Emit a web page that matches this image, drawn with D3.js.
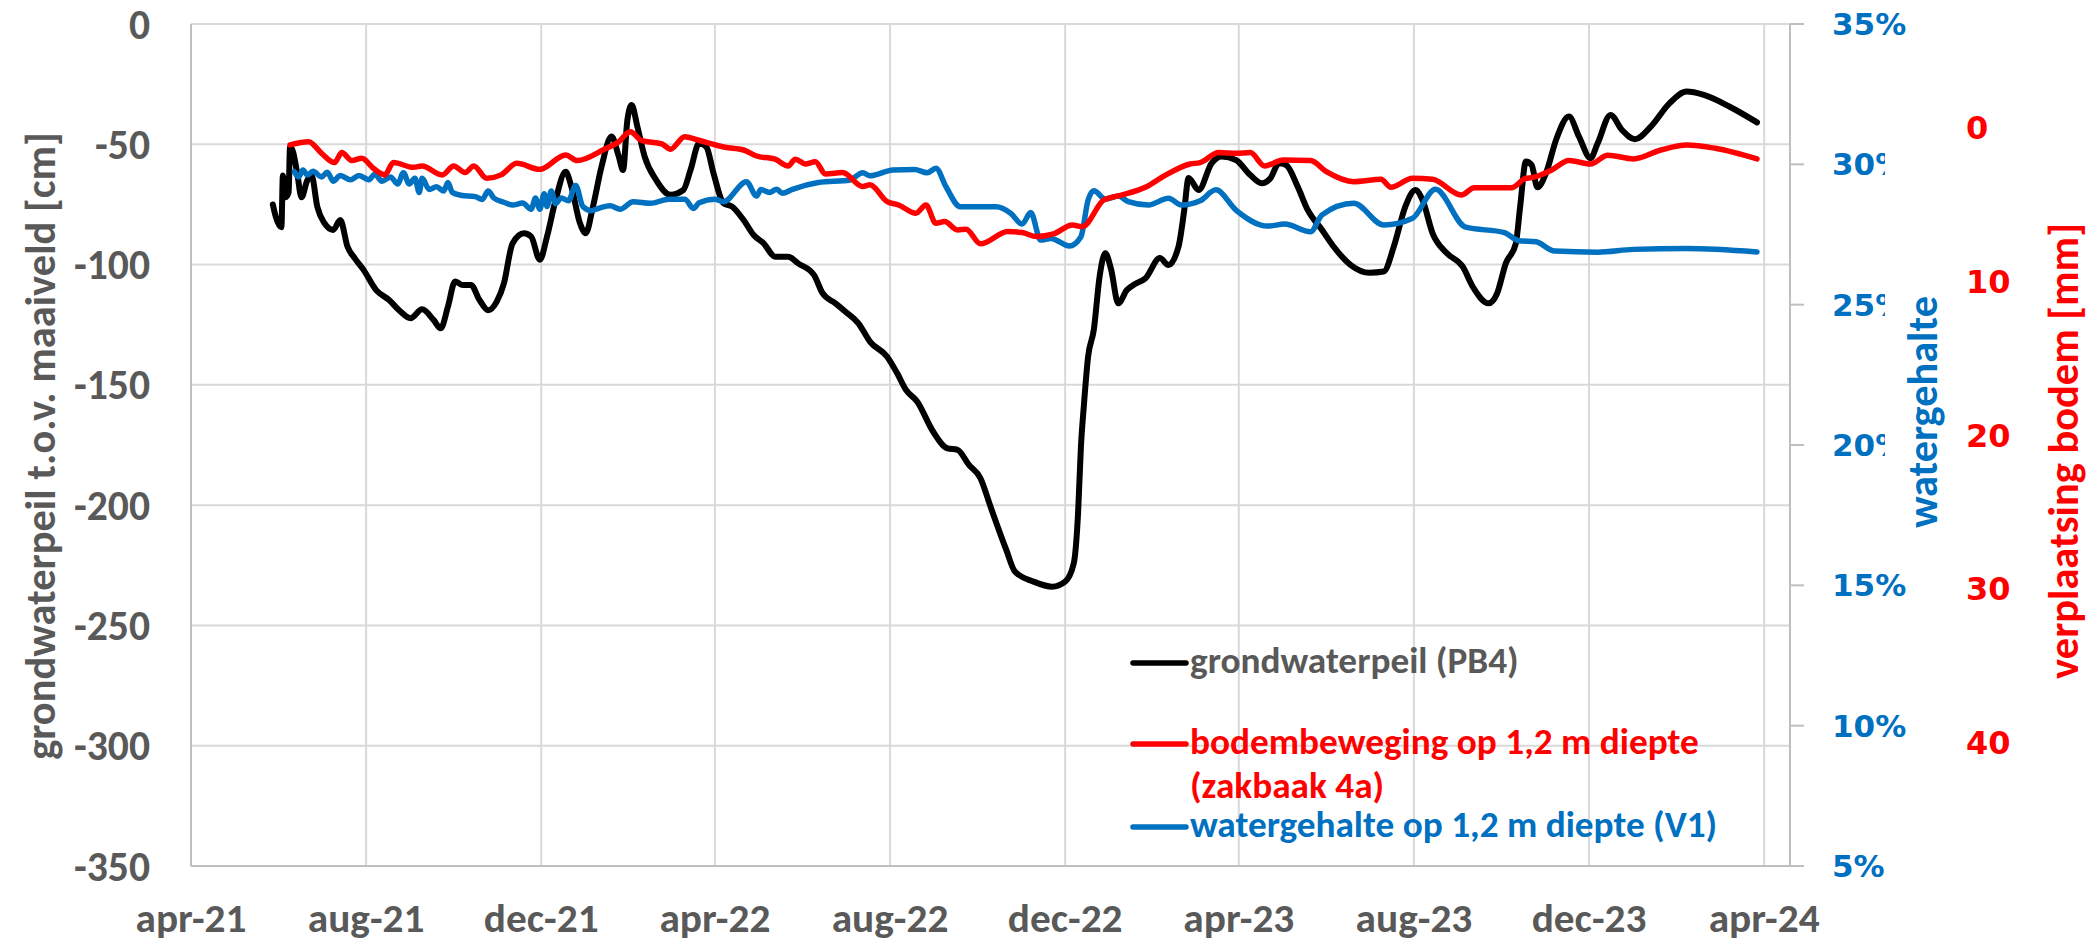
<!DOCTYPE html>
<html>
<head>
<meta charset="utf-8">
<script src="https://cdn.jsdelivr.net/npm/d3@7"></script>
<style>
  body { margin: 0; background: #fff; }
  text { font-weight: bold; }
</style>
</head>
<body>
<div id="chart"></div>
<script>
const parseDate = d3.utcParse("%Y-%m-%d");

// axis ticks
const xTickDates = ["2021-04-01", "2021-08-01", "2021-12-01", "2022-04-01", "2022-08-01",
  "2022-12-01", "2023-04-01", "2023-08-01", "2023-12-01", "2024-04-01"];
const xTickLabels = ["apr-21", "aug-21", "dec-21", "apr-22", "aug-22",
  "dec-22", "apr-23", "aug-23", "dec-23", "apr-24"];
const leftTicks = [0, -50, -100, -150, -200, -250, -300, -350];
const blueTicks = [0.35, 0.30, 0.25, 0.20, 0.15, 0.10, 0.05];
const redTicks = [0, 10, 20, 30, 40];

// grondwaterpeil PB4 [cm t.o.v. maaiveld]
const grondwaterpeil = [
  ["2021-05-28", -75], ["2021-05-30", -80], ["2021-06-03", -84.5], ["2021-06-04", -63],
  ["2021-06-06", -72], ["2021-06-08", -70], ["2021-06-09", -51], ["2021-06-11", -53],
  ["2021-06-14", -62], ["2021-06-17", -72], ["2021-06-21", -65], ["2021-06-24", -63],
  ["2021-06-28", -76], ["2021-07-03", -82.8], ["2021-07-09", -85.6], ["2021-07-14", -81.5],
  ["2021-07-19", -92.5], ["2021-07-24", -97.3], ["2021-07-30", -102], ["2021-08-08", -110.6],
  ["2021-08-17", -114.7], ["2021-08-24", -119], ["2021-09-01", -122.3], ["2021-09-09", -118.6],
  ["2021-09-17", -123], ["2021-09-22", -126.5], ["2021-09-27", -117.5], ["2021-10-02", -107],
  ["2021-10-07", -108.5], ["2021-10-13", -108.5], ["2021-10-19", -114.7], ["2021-10-25", -119],
  ["2021-10-31", -115.4], ["2021-11-05", -107.8], ["2021-11-11", -91.2], ["2021-11-19", -87],
  ["2021-11-24", -88.4], ["2021-11-30", -98], ["2021-12-05", -88.4], ["2021-12-11", -73.2],
  ["2021-12-18", -61.4], ["2021-12-22", -67.6], ["2021-12-28", -82.8], ["2022-01-01", -87],
  ["2022-01-06", -76], ["2022-01-12", -59.3], ["2022-01-19", -46.8], ["2022-01-24", -55],
  ["2022-01-27", -60.7], ["2022-01-30", -40], ["2022-02-02", -33.7], ["2022-02-06", -42.7],
  ["2022-02-11", -55], ["2022-02-19", -64.8], ["2022-03-01", -71], ["2022-03-10", -69],
  ["2022-03-15", -60.7], ["2022-03-21", -49.6], ["2022-03-26", -51], ["2022-03-31", -62],
  ["2022-04-07", -74.5], ["2022-04-13", -75.9], ["2022-04-21", -81.5], ["2022-04-28", -87.7],
  ["2022-05-05", -91.2], ["2022-05-13", -96.7], ["2022-05-22", -96.7], ["2022-05-29", -99.5],
  ["2022-06-09", -104.3], ["2022-06-15", -111.9], ["2022-06-24", -116.1], ["2022-07-01", -119.6],
  ["2022-07-10", -124.4], ["2022-07-18", -132], ["2022-07-30", -138.3], ["2022-08-06", -145.2],
  ["2022-08-12", -152], ["2022-08-20", -157], ["2022-08-31", -169.4], ["2022-09-10", -176.4],
  ["2022-09-17", -177], ["2022-09-25", -183.3], ["2022-10-03", -188.8], ["2022-10-10", -200.6],
  ["2022-10-21", -218.6], ["2022-10-27", -227.6], ["2022-11-09", -231.8], ["2022-11-22", -233.9],
  ["2022-12-01", -231.8], ["2022-12-07", -224.2], ["2022-12-10", -203.4], ["2022-12-12", -175.7],
  ["2022-12-14", -159], ["2022-12-17", -138.3], ["2022-12-21", -127], ["2022-12-25", -105],
  ["2022-12-29", -95.3], ["2023-01-02", -102], ["2023-01-07", -116.1], ["2023-01-13", -110.6],
  ["2023-01-19", -108], ["2023-01-26", -105.7], ["2023-02-05", -97.3], ["2023-02-11", -100.2],
  ["2023-02-18", -92.5], ["2023-02-22", -77.3], ["2023-02-25", -64], ["2023-03-04", -69],
  ["2023-03-13", -57.9], ["2023-03-20", -55.1], ["2023-03-30", -56.5], ["2023-04-09", -62.8],
  ["2023-04-17", -66.2], ["2023-04-23", -64.1], ["2023-04-29", -57.9], ["2023-05-04", -58.6],
  ["2023-05-12", -67.6], ["2023-05-19", -77.3], ["2023-05-29", -85.6], ["2023-06-06", -92.5],
  ["2023-06-18", -100.2], ["2023-07-01", -103.4], ["2023-07-11", -102.9], ["2023-07-18", -92.5],
  ["2023-07-26", -75.9], ["2023-08-02", -69], ["2023-08-07", -73.2], ["2023-08-14", -87],
  ["2023-08-24", -95.3], ["2023-09-04", -100.9], ["2023-09-11", -109.2], ["2023-09-22", -116.1],
  ["2023-09-28", -111.9], ["2023-10-04", -99.5], ["2023-10-11", -91.2], ["2023-10-14", -75.9],
  ["2023-10-18", -57.2], ["2023-10-22", -58.6], ["2023-10-26", -67.9], ["2023-11-01", -62],
  ["2023-11-08", -48.2], ["2023-11-17", -38.5], ["2023-11-24", -46.8], ["2023-12-02", -55.8],
  ["2023-12-07", -49.6], ["2023-12-16", -37.8], ["2023-12-24", -44.1], ["2024-01-02", -47.9],
  ["2024-01-13", -42.7], ["2024-01-26", -33], ["2024-02-07", -28.1], ["2024-02-19", -29.5],
  ["2024-03-08", -34.4], ["2024-03-27", -40.9]
];

// bodembeweging op 1,2 m diepte (zakbaak 4a) [mm]
const bodembeweging = [
  ["2021-06-09", 1.07], ["2021-06-22", 0.86], ["2021-07-01", 1.62], ["2021-07-10", 2.22],
  ["2021-07-15", 1.57], ["2021-07-22", 2.09], ["2021-07-29", 1.94], ["2021-08-06", 2.59],
  ["2021-08-14", 3.02], ["2021-08-20", 2.22], ["2021-09-03", 2.53], ["2021-09-09", 2.44],
  ["2021-09-23", 3.02], ["2021-10-01", 2.44], ["2021-10-09", 2.87], ["2021-10-15", 2.44],
  ["2021-10-24", 3.24], ["2021-11-03", 3.02], ["2021-11-14", 2.27], ["2021-11-30", 2.66],
  ["2021-12-18", 1.72], ["2021-12-26", 2.09], ["2022-01-14", 1.35], ["2022-01-24", 0.86],
  ["2022-02-01", 0.21], ["2022-02-09", 0.79], ["2022-02-23", 1.0], ["2022-03-01", 1.35],
  ["2022-03-11", 0.53], ["2022-03-20", 0.75], ["2022-04-08", 1.22], ["2022-04-21", 1.40],
  ["2022-04-30", 1.79], ["2022-05-13", 2.0], ["2022-05-22", 2.44], ["2022-05-27", 2.0],
  ["2022-06-03", 2.31], ["2022-06-10", 2.16], ["2022-06-17", 2.96], ["2022-06-29", 2.87],
  ["2022-07-13", 3.78], ["2022-07-18", 3.67], ["2022-07-30", 4.76], ["2022-08-07", 4.98],
  ["2022-08-19", 5.52], ["2022-08-26", 4.98], ["2022-09-02", 6.17], ["2022-09-08", 6.06],
  ["2022-09-17", 6.6], ["2022-09-23", 6.56], ["2022-10-03", 7.51], ["2022-10-22", 6.71],
  ["2022-11-01", 6.77], ["2022-11-11", 7.03], ["2022-11-23", 6.86], ["2022-12-06", 6.28],
  ["2022-12-13", 6.39], ["2022-12-28", 4.65], ["2023-01-07", 4.39], ["2023-01-27", 3.78],
  ["2023-02-08", 3.09], ["2023-02-26", 2.31], ["2023-03-05", 2.22], ["2023-03-18", 1.57],
  ["2023-03-30", 1.61], ["2023-04-09", 1.57], ["2023-04-19", 2.44], ["2023-05-02", 2.05],
  ["2023-05-21", 2.09], ["2023-06-01", 2.81], ["2023-06-20", 3.46], ["2023-07-09", 3.31],
  ["2023-07-16", 3.83], ["2023-07-31", 3.24], ["2023-08-14", 3.31], ["2023-09-03", 4.33],
  ["2023-09-12", 3.85], ["2023-10-08", 3.85], ["2023-10-18", 3.24], ["2023-10-22", 3.2],
  ["2023-11-05", 2.7], ["2023-11-17", 2.09], ["2023-12-02", 2.31], ["2023-12-14", 1.74],
  ["2024-01-01", 1.98], ["2024-01-20", 1.4], ["2024-02-07", 1.07], ["2024-02-27", 1.29],
  ["2024-03-27", 1.98]
];

// watergehalte op 1,2 m diepte (V1) [fraction]
const watergehalte = [
  ["2021-06-12", 0.2974], ["2021-06-15", 0.2955], ["2021-06-18", 0.2980], ["2021-06-21", 0.2962],
  ["2021-06-25", 0.2975], ["2021-07-01", 0.2955], ["2021-07-05", 0.2972], ["2021-07-09", 0.2940],
  ["2021-07-14", 0.2960], ["2021-07-21", 0.2945], ["2021-07-27", 0.2960], ["2021-08-03", 0.2945],
  ["2021-08-07", 0.2965], ["2021-08-12", 0.2940], ["2021-08-18", 0.2955], ["2021-08-23", 0.2930],
  ["2021-08-27", 0.2970], ["2021-08-31", 0.2930], ["2021-09-04", 0.2950], ["2021-09-07", 0.2900],
  ["2021-09-09", 0.2950], ["2021-09-14", 0.2910], ["2021-09-19", 0.2920], ["2021-09-24", 0.2905],
  ["2021-09-27", 0.2935], ["2021-09-30", 0.2900], ["2021-10-06", 0.2890], ["2021-10-16", 0.2885],
  ["2021-10-21", 0.2875], ["2021-10-25", 0.2905], ["2021-10-29", 0.2880], ["2021-11-05", 0.2865],
  ["2021-11-11", 0.2855], ["2021-11-18", 0.2862], ["2021-11-24", 0.2840], ["2021-11-27", 0.2880],
  ["2021-11-30", 0.2840], ["2021-12-03", 0.2895], ["2021-12-05", 0.2850], ["2021-12-08", 0.2905],
  ["2021-12-11", 0.2860], ["2021-12-15", 0.2880], ["2021-12-20", 0.2870], ["2021-12-25", 0.2925],
  ["2021-12-30", 0.2850], ["2022-01-05", 0.2835], ["2022-01-11", 0.2845], ["2022-01-18", 0.2852],
  ["2022-01-25", 0.2840], ["2022-02-03", 0.2867], ["2022-02-15", 0.2861], ["2022-02-28", 0.2876],
  ["2022-03-11", 0.2876], ["2022-03-17", 0.2843], ["2022-03-21", 0.2863], ["2022-04-01", 0.2876],
  ["2022-04-07", 0.2867], ["2022-04-23", 0.2938], ["2022-04-30", 0.2887], ["2022-05-03", 0.2910],
  ["2022-05-09", 0.2900], ["2022-05-14", 0.2911], ["2022-05-18", 0.2897], ["2022-05-25", 0.2911],
  ["2022-06-12", 0.2935], ["2022-07-04", 0.2944], ["2022-07-13", 0.2970], ["2022-07-18", 0.2959],
  ["2022-08-03", 0.2980], ["2022-08-18", 0.2982], ["2022-08-27", 0.2970], ["2022-09-02", 0.2986],
  ["2022-09-09", 0.2920], ["2022-09-19", 0.2849], ["2022-10-14", 0.2849], ["2022-10-24", 0.2826],
  ["2022-11-01", 0.2787], ["2022-11-07", 0.2828], ["2022-11-14", 0.2730], ["2022-11-21", 0.2736],
  ["2022-12-04", 0.2709], ["2022-12-12", 0.2742], ["2022-12-17", 0.2873], ["2022-12-21", 0.2906],
  ["2022-12-29", 0.2876], ["2023-01-07", 0.2887], ["2023-01-14", 0.2867], ["2023-01-28", 0.2855],
  ["2023-02-11", 0.2879], ["2023-02-20", 0.2855], ["2023-03-05", 0.2870], ["2023-03-16", 0.2909],
  ["2023-03-30", 0.2837], ["2023-04-21", 0.2780], ["2023-05-03", 0.2787], ["2023-05-21", 0.2760],
  ["2023-05-29", 0.2820], ["2023-06-20", 0.2861], ["2023-07-11", 0.2784], ["2023-07-31", 0.2808],
  ["2023-08-16", 0.2911], ["2023-09-06", 0.2776], ["2023-10-03", 0.2757], ["2023-10-13", 0.2728],
  ["2023-10-25", 0.2724], ["2023-11-07", 0.2691], ["2023-12-07", 0.2687], ["2024-01-01", 0.2697],
  ["2024-02-07", 0.2700], ["2024-03-27", 0.2688]
];

const legendItems = [
  { lines: ["grondwaterpeil (PB4)"], color: "#000000", textColor: "#595959" },
  { lines: ["bodembeweging op 1,2 m diepte", "(zakbaak 4a)"], color: "#FF0000", textColor: "#FF0000" },
  { lines: ["watergehalte op 1,2 m diepte (V1)"], color: "#0070C0", textColor: "#0070C0" }
];

const width = 2097;
const height = 945;
const plot = { left: 191, right: 1790, top: 24, bottom: 866 };

const narrowFont = "Carlito, Calibri, Lato, 'Open Sans', sans-serif";
const wideFont = "Verdana, 'DejaVu Sans', sans-serif";
const grey = "#595959";
const blue = "#0070C0";
const red = "#FF0000";

// scale the font of a group so that one sample text gets the wanted width
function fitFont(group, sampleText, wanted) {
  const nodes = group.nodes();
  const sample = nodes.find(n => n.textContent === sampleText) || nodes[0];
  const size = parseFloat(d3.select(sample).style("font-size"));
  const newSize = size * wanted / sample.getComputedTextLength();
  group.style("font-size", newSize + "px");
}

const x = d3.scaleUtc()
  .domain([parseDate("2021-04-01"), parseDate("2024-04-19")])
  .range([plot.left, plot.right]);
const yLeft = d3.scaleLinear().domain([-350, 0]).range([plot.bottom, plot.top]);
const yBlue = d3.scaleLinear().domain([0.05, 0.35]).range([plot.bottom, plot.top]);
const yRed = d3.scaleLinear().domain([48, -6.8]).range([plot.bottom, plot.top]);

const svg = d3.select("#chart")
  .append("svg")
  .attr("width", width)
  .attr("height", height);

// gridlines
svg.append("g")
  .selectAll("line")
  .data(leftTicks)
  .enter()
  .append("line")
  .attr("x1", plot.left).attr("x2", plot.right)
  .attr("y1", d => yLeft(d)).attr("y2", d => yLeft(d))
  .attr("stroke", "#D9D9D9").attr("stroke-width", 2);

svg.append("g")
  .selectAll("line")
  .data(xTickDates.slice(1))
  .enter()
  .append("line")
  .attr("x1", d => x(parseDate(d))).attr("x2", d => x(parseDate(d)))
  .attr("y1", plot.top).attr("y2", plot.bottom)
  .attr("stroke", "#D9D9D9").attr("stroke-width", 2);

// axis lines
const axisColor = "#BFBFBF";
svg.append("line")
  .attr("x1", plot.left).attr("x2", plot.left)
  .attr("y1", plot.top).attr("y2", plot.bottom)
  .attr("stroke", axisColor).attr("stroke-width", 2);
svg.append("line")
  .attr("x1", plot.left).attr("x2", plot.right)
  .attr("y1", plot.bottom).attr("y2", plot.bottom)
  .attr("stroke", axisColor).attr("stroke-width", 2);
svg.append("line")
  .attr("x1", plot.right).attr("x2", plot.right)
  .attr("y1", plot.top).attr("y2", plot.bottom)
  .attr("stroke", axisColor).attr("stroke-width", 2);
svg.append("g")
  .selectAll("line")
  .data(blueTicks)
  .enter()
  .append("line")
  .attr("x1", plot.right).attr("x2", plot.right + 14)
  .attr("y1", d => yBlue(d)).attr("y2", d => yBlue(d))
  .attr("stroke", axisColor).attr("stroke-width", 2);

// left tick labels
const leftLabels = svg.append("g")
  .selectAll("text")
  .data(leftTicks)
  .enter()
  .append("text")
  .attr("x", 150)
  .attr("y", d => yLeft(d))
  .attr("text-anchor", "end")
  .attr("dominant-baseline", "central")
  .style("font-family", narrowFont)
  .style("font-size", "36px")
  .attr("fill", grey)
  .text(d => d);
fitFont(leftLabels, "-350", 76);

// x tick labels
const xLabels = svg.append("g")
  .selectAll("text")
  .data(xTickDates)
  .enter()
  .append("text")
  .attr("x", d => x(parseDate(d)))
  .attr("y", 932)
  .attr("text-anchor", "middle")
  .style("font-family", narrowFont)
  .style("font-size", "36px")
  .attr("fill", grey)
  .text((d, i) => xTickLabels[i]);
fitFont(xLabels, "apr-21", 111);

// right tick labels (watergehalte)
svg.append("g")
  .selectAll("text")
  .data(blueTicks)
  .enter()
  .append("text")
  .attr("x", 1832)
  .attr("y", d => yBlue(d))
  .attr("dominant-baseline", "central")
  .style("font-family", wideFont)
  .style("font-size", "31px")
  .attr("fill", blue)
  .text(d => d3.format(".0%")(d));

// second right tick labels (verplaatsing)
svg.append("g")
  .selectAll("text")
  .data(redTicks)
  .enter()
  .append("text")
  .attr("x", 1966)
  .attr("y", d => yRed(d))
  .attr("dominant-baseline", "central")
  .style("font-family", wideFont)
  .style("font-size", "32px")
  .attr("fill", red)
  .text(d => d);

// axis titles
const leftTitle = svg.append("text")
  .attr("transform", "translate(40,446) rotate(-90)")
  .attr("text-anchor", "middle")
  .attr("dominant-baseline", "central")
  .style("font-family", narrowFont)
  .style("font-size", "38px")
  .attr("fill", grey)
  .text("grondwaterpeil t.o.v. maaiveld [cm]");
fitFont(leftTitle, "", 628);

// title box of the watergehalte axis covers part of its labels
svg.append("rect")
  .attr("x", 1885).attr("y", 135)
  .attr("width", 62).attr("height", 425)
  .attr("fill", "#fff");

const blueTitle = svg.append("text")
  .attr("transform", "translate(1922,412) rotate(-90)")
  .attr("text-anchor", "middle")
  .attr("dominant-baseline", "central")
  .style("font-family", narrowFont)
  .style("font-size", "38px")
  .attr("fill", blue)
  .text("watergehalte");
fitFont(blueTitle, "", 232);

const redTitle = svg.append("text")
  .attr("transform", "translate(2063,451) rotate(-90)")
  .attr("text-anchor", "middle")
  .attr("dominant-baseline", "central")
  .style("font-family", narrowFont)
  .style("font-size", "38px")
  .attr("fill", red)
  .text("verplaatsing bodem [mm]");
fitFont(redTitle, "", 456);

// series
const lineLeft = d3.line()
  .x(d => x(parseDate(d[0])))
  .y(d => yLeft(d[1]))
  .curve(d3.curveMonotoneX);
const lineBlue = d3.line()
  .x(d => x(parseDate(d[0])))
  .y(d => yBlue(d[1]))
  .curve(d3.curveMonotoneX);
const lineRed = d3.line()
  .x(d => x(parseDate(d[0])))
  .y(d => yRed(d[1]))
  .curve(d3.curveMonotoneX);

svg.append("path")
  .datum(grondwaterpeil)
  .attr("d", lineLeft)
  .attr("fill", "none")
  .attr("stroke", "#000")
  .attr("stroke-width", 6)
  .attr("stroke-linejoin", "round")
  .attr("stroke-linecap", "round");

svg.append("path")
  .datum(watergehalte)
  .attr("d", lineBlue)
  .attr("fill", "none")
  .attr("stroke", blue)
  .attr("stroke-width", 5.5)
  .attr("stroke-linejoin", "round")
  .attr("stroke-linecap", "round");

svg.append("path")
  .datum(bodembeweging)
  .attr("d", lineRed)
  .attr("fill", "none")
  .attr("stroke", red)
  .attr("stroke-width", 5.5)
  .attr("stroke-linejoin", "round")
  .attr("stroke-linecap", "round");

// legend
const legendRows = [663, 744, 827];
const legend = svg.append("g");
legendItems.forEach((item, i) => {
  const y = legendRows[i];
  legend.append("line")
    .attr("x1", 1133).attr("x2", 1186)
    .attr("y1", y).attr("y2", y)
    .attr("stroke", item.color)
    .attr("stroke-width", 5.5)
    .attr("stroke-linecap", "round");
  item.lines.forEach((t, j) => {
    legend.append("text")
      .attr("class", "legend-text")
      .attr("x", 1190)
      .attr("y", y + 10 + j * 44)
      .style("font-family", narrowFont)
      .style("font-size", "34px")
      .attr("fill", item.textColor)
      .text(t);
  });
});
fitFont(legend.selectAll(".legend-text"), "bodembeweging op 1,2 m diepte", 509);
</script>
</body>
</html>
